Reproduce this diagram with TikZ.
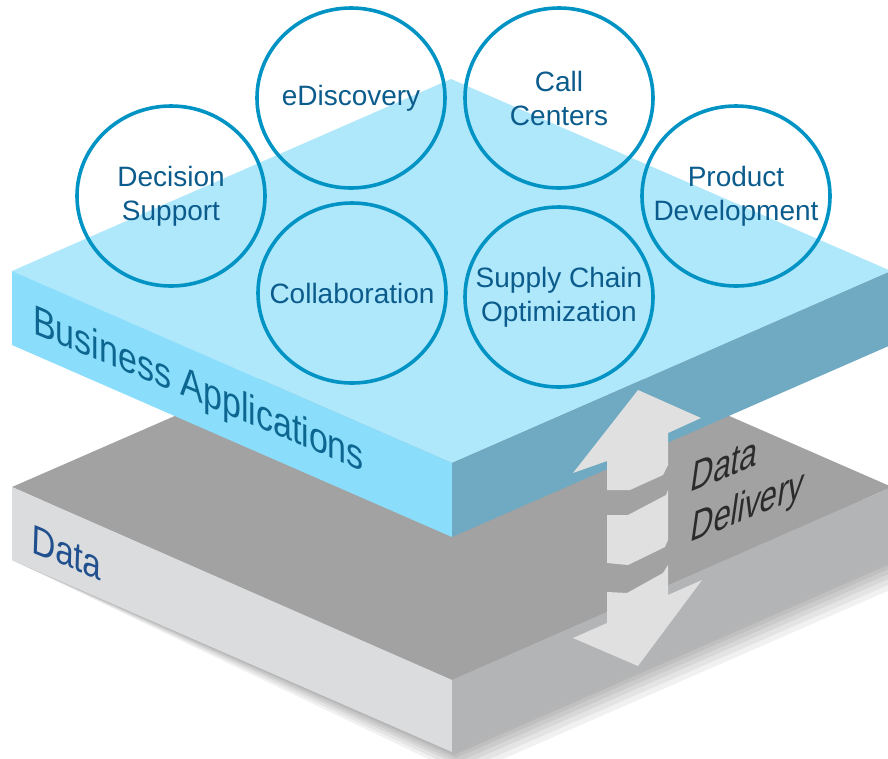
\documentclass[tikz,border=0pt]{standalone}
\usepackage{fontspec}
\setmainfont{Liberation Sans}
\usepackage{tikz}
\usetikzlibrary{shapes.geometric}

\definecolor{bluetop}{HTML}{AFE7FB}
\definecolor{blueleft}{HTML}{8ADEFB}
\definecolor{blueright}{HTML}{6FA9C2}
\definecolor{graytop}{HTML}{A2A2A2}
\definecolor{grayleft}{HTML}{DBDCDE}
\definecolor{grayright}{HTML}{B3B4B6}
\definecolor{ring}{HTML}{0093C4}
\definecolor{ringtext}{HTML}{0B5C8C}
\definecolor{biztext}{HTML}{0C6690}
\definecolor{datatext}{HTML}{21508F}
\definecolor{arrowgray}{HTML}{E0E0E0}
\definecolor{delivtext}{HTML}{2B2B2B}

\begin{document}
\begin{tikzpicture}[x=1pt, y=-1pt,
	app/.style={ellipse, draw=ring, line width=3.6pt, minimum width=188pt, minimum height=180pt, inner sep=0pt},
	apptext/.style={text=ringtext, align=center, font=\fontsize{28}{34}\selectfont, inner sep=0pt},
	facetext/.style={inner sep=0pt, anchor=base west},
	shade/.style={black, opacity=0.055}]
	\useasboundingbox (0,0) rectangle (888,758);
	\clip (0,0) rectangle (888,758);

	\fill[shade] (12,560) -- (454,755) -- (895,562) -- (895,500) -- (12,500) -- cycle;
	\fill[shade] (12,560) -- (456,758) -- (898,565) -- (898,500) -- (12,500) -- cycle;
	\fill[shade] (12,560) -- (458,762) -- (900,569) -- (900,500) -- (12,500) -- cycle;
	\fill[shade] (12,560) -- (460,766) -- (902,573) -- (902,500) -- (12,500) -- cycle;
	\fill[shade] (12,560) -- (462,771) -- (904,578) -- (904,500) -- (12,500) -- cycle;
	\fill[shade] (12,560) -- (464,776) -- (906,583) -- (906,500) -- (12,500) -- cycle;

	\fill[graytop] (12,487) -- (452,295) -- (892,487) -- (452,680) -- cycle;
	\fill[grayleft] (12,487) -- (452,680) -- (452,752) -- (12,560) -- cycle;
	\fill[grayright] (452,680) -- (892,487) -- (892,560) -- (452,752) -- cycle;

	\fill[bluetop] (12,271) -- (451,79) -- (891,271) -- (452,463) -- cycle;
	\fill[blueleft] (12,271) -- (452,463) -- (452,537) -- (12,345) -- cycle;
	\fill[blueright] (452,463) -- (891,271) -- (891,345) -- (452,537) -- cycle;

	\node[app, label={[apptext]center:Decision\\Support}] (app1) at (171,196) {};
	\node[app, label={[apptext]center:eDiscovery}] (app2) at (351,98) {};
	\node[app, label={[apptext]center:Call\\Centers}] (app3) at (559,98) {};
	\node[app, label={[apptext]center:Product\\Development}] (app4) at (736,196) {};
	\node[app, label={[apptext]center:Collaboration}] (app5) at (352,293) {};
	\node[app, label={[apptext]center:Supply Chain\\Optimization}] (app6) at (559,297) {};

	\node[facetext, text=biztext, font=\fontsize{34}{40}\selectfont, cm={1,-0.42,0,1.23,(0,0)}] (biz) at (33,333) {Business Applications};
	\node[facetext, text=datatext, font=\fontsize{33}{40}\selectfont, cm={1,-0.41,0.04,1.24,(0,0)}] (data) at (31,552) {Data};

	\fill[arrowgray]
		(638,390) -- (701,418) -- (668,433) -- (668,465) -- (663,475) -- (630,490) -- (607,490) -- (607,461) -- (573,473) -- cycle
		(607,515) -- (628,515) -- (666,495) -- (668,490) -- (668,540) -- (665,547) -- (628,565) -- (607,563) -- cycle
		(607,592) -- (627,593) -- (663,573) -- (668,565) -- (668,595) -- (702,580) -- (638,666) -- (573,638) -- (607,623) -- cycle;

	\node[inner sep=0pt, anchor=north west, align=left, text=delivtext, font=\fontsize{31}{38}\selectfont, cm={1,0.4,0.2,1.4,(0,0)}] (deliv) at (694,462) {Data\\\hspace*{7.6pt}Delivery};
\end{tikzpicture}
\end{document}
